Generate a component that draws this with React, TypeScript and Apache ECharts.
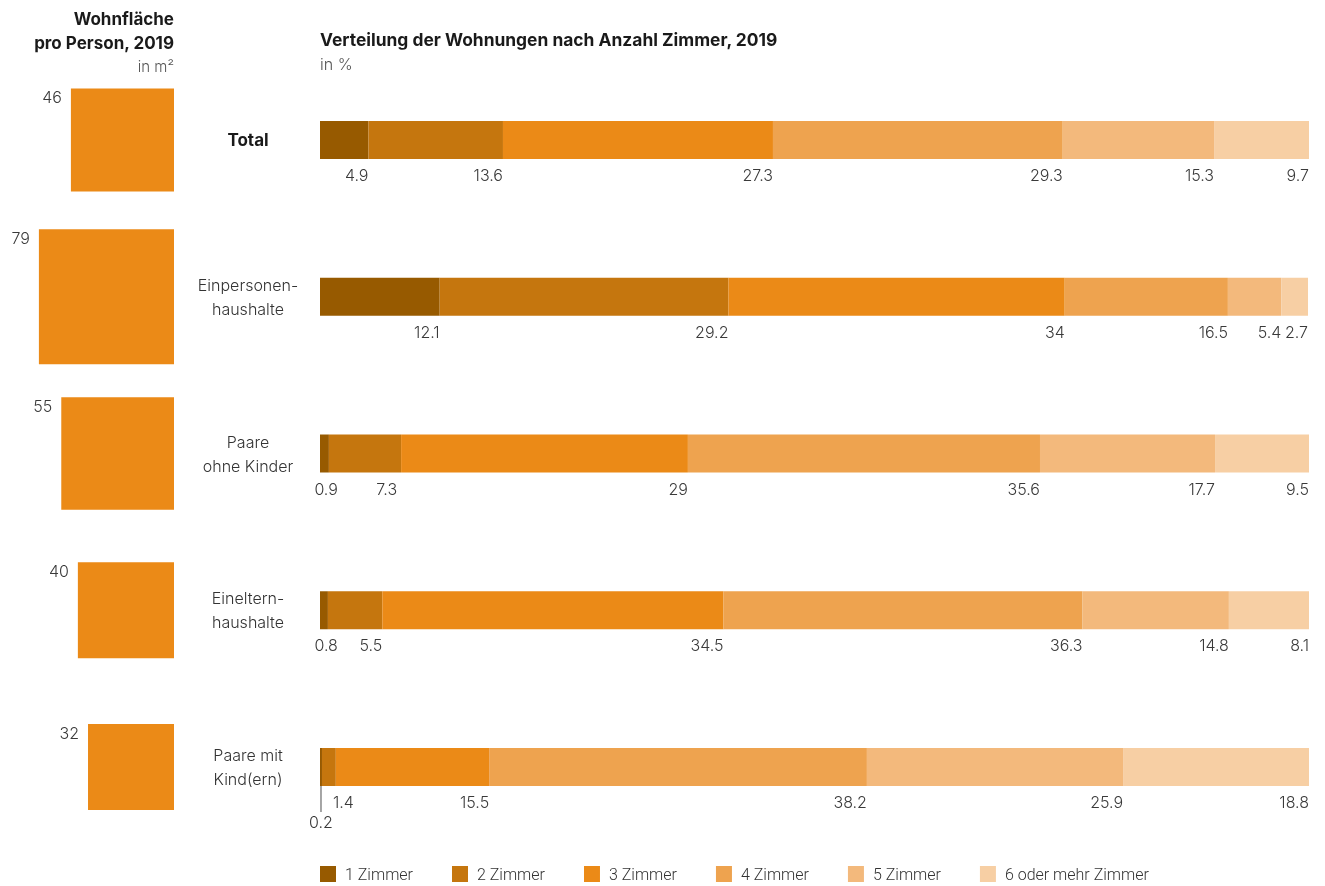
import React, { useEffect, useRef } from "react";
import * as echarts from "echarts";

const categories = ["Total", "Einpersonen-\nhaushalte", "Paare\nohne Kinder", "Eineltern-\nhaushalte", "Paare mit\nKind(ern)"];
const areaPerPerson = [46, 79, 55, 40, 32];
const seriesNames = ["1 Zimmer", "2 Zimmer", "3 Zimmer", "4 Zimmer", "5 Zimmer", "6 oder mehr Zimmer"];
const rooms1 = [4.9, 12.1, 0.9, 0.8, 0.2];
const rooms2 = [13.6, 29.2, 7.3, 5.5, 1.4];
const rooms3 = [27.3, 34, 29, 34.5, 15.5];
const rooms4 = [29.3, 16.5, 35.6, 36.3, 38.2];
const rooms5 = [15.3, 5.4, 17.7, 14.8, 25.9];
const rooms6 = [9.7, 2.7, 9.5, 8.1, 18.8];
const colors = ["#975a00", "#c5760e", "#eb8a17", "#eea34f", "#f3b97c", "#f7cfa4"];

const FONT = "Inter, Roboto, 'Liberation Sans', sans-serif";
const LEGEND_FONT = "Roboto, 'Liberation Sans', sans-serif";
const TOP = 61.6;
const BOTTOM = 40.6;

// label offset overrides [series-row] -> [dx, dy]
const labelShift: Record<string, number[]> = {
  "0-2": [9, 8],
  "1-2": [-4, 8],
  "0-3": [10, 8],
  "1-4": [18, 8],
};

export default function App() {
  const ref = useRef<HTMLDivElement>(null);
  useEffect(() => {
    const chart = echarts.init(ref.current!, null, { renderer: "svg" });
    const all = [rooms1, rooms2, rooms3, rooms4, rooms5, rooms6];
    const barSeries = all.map((arr, si) => ({
      type: "bar",
      name: seriesNames[si],
      stack: "rooms",
      xAxisIndex: 0,
      yAxisIndex: 0,
      barWidth: 38,
      itemStyle: { color: colors[si] },
      label: {
        show: true,
        position: ["100%", "100%"],
        align: "right",
        verticalAlign: "top",
        offset: [0, 8],
        fontFamily: FONT,
        fontSize: 16,
        fontWeight: 300,
        color: "#3a3a3a",
        formatter: (p: any) => String(p.value),
      },
      data: arr.map((v, ri) => {
        const key = `${si}-${ri}`;
        if (si === 0 && ri === 4) {
          return {
            value: v,
            label: { position: ["0%", "100%"], align: "center", offset: [1, 28] },
          };
        }
        if (labelShift[key]) {
          return { value: v, label: { offset: labelShift[key] } };
        }
        return v;
      }),
    }));

    const squareSeries = {
      type: "custom",
      xAxisIndex: 1,
      yAxisIndex: 1,
      encode: { x: 0, y: 1 },
      data: areaPerPerson.map((v, i) => [Math.sqrt(v), i, v]),
      renderItem: (params: any, api: any) => {
        const idx = api.value(1);
        const yc = api.coord([0, idx])[1];
        const xr = api.coord([10, idx])[0];
        const s = api.size([api.value(0), 0])[0];
        return {
          type: "group",
          children: [
            {
              type: "rect",
              shape: { x: xr - s, y: yc - s / 2, width: s, height: s },
              style: { fill: "#eb8a17" },
            },
            {
              type: "text",
              x: xr - s - 9,
              y: yc - s / 2 + 1,
              style: {
                text: String(api.value(2)),
                align: "right",
                verticalAlign: "top",
                font: `300 16px ${FONT}`,
                fill: "#3a3a3a",
              },
            },
          ],
        };
      },
    };

    const titles: any[] = [
      {
        type: "text",
        x: 174,
        y: 7,
        style: {
          text: "Wohnfläche\npro Person, 2019",
          align: "right",
          font: `bold 17px ${FONT}`,
          lineHeight: 24,
          fill: "#1a1a1a",
        },
      },
      {
        type: "text",
        x: 174,
        y: 59,
        style: { text: "in m²", align: "right", font: `300 15px ${FONT}`, fill: "#555" },
      },
      {
        type: "text",
        x: 320,
        y: 31,
        style: { text: "Verteilung der Wohnungen nach Anzahl Zimmer, 2019", font: `bold 17.4px ${FONT}`, fill: "#1a1a1a" },
      },
      {
        type: "text",
        x: 320,
        y: 56,
        style: { text: "in %", font: `300 16px ${FONT}`, fill: "#555" },
      },
    ];

    chart.setOption({
      animation: false,
      textStyle: { fontFamily: FONT },
      grid: [
        { left: 320, right: 16, top: TOP, bottom: BOTTOM },
        { left: 22, width: 152, top: TOP, bottom: BOTTOM },
      ],
      xAxis: [
        { type: "value", gridIndex: 0, min: 0, max: 100, show: false },
        { type: "value", gridIndex: 1, min: 0, max: 10, show: false },
      ],
      yAxis: [
        {
          type: "category",
          gridIndex: 0,
          data: categories,
          inverse: true,
          axisLine: { show: false },
          axisTick: { show: false },
          axisLabel: {
            margin: 72,
            align: "center",
            fontFamily: FONT,
            fontSize: 16,
            fontWeight: 300,
            color: "#333",
            lineHeight: 24,
            formatter: (v: string) => (v === "Total" ? "{b|Total}" : v),
            rich: { b: { fontWeight: "bold", fontSize: 17, color: "#1a1a1a", fontFamily: FONT } },
          },
        },
        { type: "category", gridIndex: 1, data: categories, inverse: true, show: false },
      ],
      legend: {
        left: 320,
        top: 866,
        padding: 0,
        itemWidth: 16,
        itemHeight: 16,
        itemGap: 39,
        icon: "rect",
        data: seriesNames,
        textStyle: { fontFamily: LEGEND_FONT, fontSize: 16, fontWeight: 300, color: "#333", padding: [0, 0, 0, 4] },
      },
      graphic: titles,
      series: [...barSeries, squareSeries],
    });

    const p = chart.convertToPixel({ gridIndex: 0 }, [rooms1[4] / 2, 4]) as number[];
    chart.setOption({
      graphic: [
        ...titles,
        {
          type: "line",
          shape: { x1: p[0], y1: p[1] + 19, x2: p[0], y2: p[1] + 45 },
          style: { stroke: "#888", lineWidth: 1.5 },
        },
      ],
    });

    return () => chart.dispose();
  }, []);
  return <div ref={ref} style={{ position: "fixed", left: 0, top: 0, width: 1325, height: 886 }} />;
}
